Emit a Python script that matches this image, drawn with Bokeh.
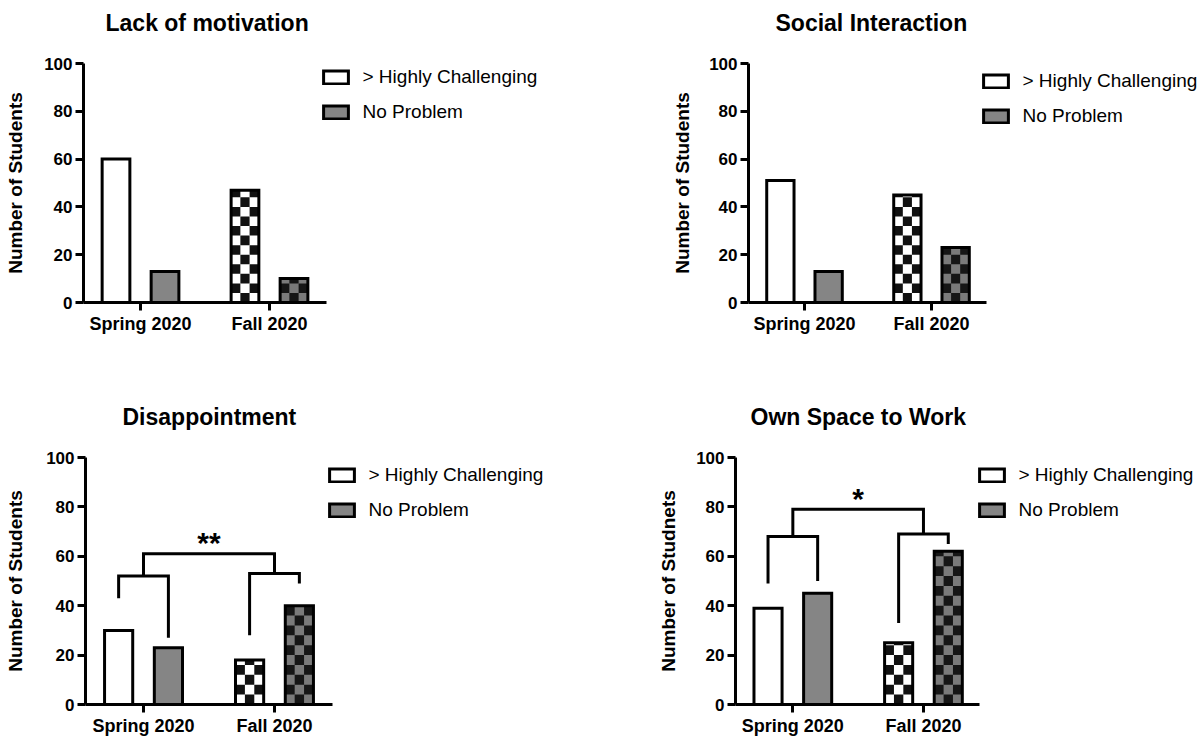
import math
from bokeh.plotting import figure
from bokeh.models import Range1d, FixedTicker, Legend, LegendItem, Title
from bokeh.layouts import column, row
from bokeh.core.properties import value
from bokeh.embed import file_html
from bokeh.resources import INLINE

# ---------------- data ----------------
categories = ["Spring 2020", "Fall 2020"]
series_names = ["> Highly Challenging", "No Problem"]
titles = ["Lack of motivation", "Social Interaction", "Disappointment", "Own Space to Work"]
y_labels = ["Number of Students", "Number of Students", "Number of Students", "Number of Studnets"]
y_ticks = [0, 20, 40, 60, 80, 100]

lack_hc = [60, 47]
lack_np = [13, 10]
social_hc = [51, 45]
social_np = [13, 23]
disap_hc = [30, 18]
disap_np = [23, 40]
space_hc = [39, 25]
space_np = [45, 62]

# significance brackets: per group [HC leg end, NP leg end, cross level]
disap_br_spring = [43, 27, 52]
disap_br_fall = [28, 49, 53]
disap_br_top = 61
disap_star = "**"
space_br_spring = [49, 50, 68]
space_br_fall = [33, 65, 69]
space_br_top = 79
space_star = "*"

# ---------------- style ----------------
FONT = "Liberation Sans"
OFF = 0.19
BAR_W = 0.215
CELL_H = 4.0
NCOLS = 3
GRAY = "#858585"
DARK = "#161616"


def checker_cells(xc, w, v, parity):
    left, right, bottom, top = [], [], [], []
    nrows = int(math.ceil(v / CELL_H))
    for i in range(nrows):
        for j in range(NCOLS):
            if (i + j) % 2 == parity:
                left.append(xc - w / 2 + j * w / NCOLS)
                right.append(xc - w / 2 + (j + 1) * w / NCOLS)
                bottom.append(i * CELL_H)
                top.append(min((i + 1) * CELL_H, v))
    return dict(left=left, right=right, bottom=bottom, top=top)


def make_panel(title, ylab, hc, npv, geom, bracket=None):
    W, H, bl, bt, bb, axis_w, x0, x_end, lab_standoff, t_off = geom
    fw = W - bl
    fh = H - bt - bb
    x1 = x0 + (x_end - x0) * fw / axis_w
    p = figure(width=W, height=H, x_range=Range1d(x0, x1), y_range=Range1d(0, 100),
               output_backend="svg", toolbar_location=None, title=None,
               min_border_left=bl, min_border_right=0,
               min_border_top=bt, min_border_bottom=bb)
    p.outline_line_color = None
    p.xgrid.visible = False
    p.ygrid.visible = False

    # spacer (closest to frame) then the visible title above it
    p.add_layout(Title(text=" ", text_font_size="10px", standoff=15), "above")
    p.add_layout(Title(text=title, align="left", offset=t_off, standoff=0, text_font=FONT,
                       text_font_size="23px", text_font_style="bold", text_color="black"), "above")

    for ax in (p.xaxis[0], p.yaxis[0]):
        ax.axis_line_width = 3
        ax.axis_line_color = "black"
        ax.major_tick_line_width = 3
        ax.major_tick_line_color = "black"
        ax.major_tick_out = 8
        ax.major_tick_in = 0
        ax.minor_tick_line_color = None
        ax.major_label_text_font = FONT
        ax.major_label_text_font_style = "bold"
        ax.major_label_text_color = "black"
        ax.major_label_standoff = 3
    p.yaxis.ticker = FixedTicker(ticks=y_ticks)
    p.yaxis.major_label_text_font_size = "17px"
    p.yaxis.axis_label = ylab
    p.yaxis.axis_label_text_font = FONT
    p.yaxis.axis_label_text_font_size = "19px"
    p.yaxis.axis_label_text_font_style = "bold"
    p.yaxis.axis_label_text_color = "black"
    p.yaxis.axis_label_standoff = lab_standoff
    p.xaxis.ticker = FixedTicker(ticks=[0, 1])
    p.xaxis.bounds = (x0, x_end)
    p.xaxis.major_label_overrides = {0: categories[0], 1: categories[1]}
    p.xaxis.major_label_text_font_size = "18px"

    x_hc = [i - OFF for i in range(len(categories))]
    x_np = [i + OFF for i in range(len(categories))]

    # Spring bars (solid)
    r_hc = p.vbar(x=[x_hc[0]], top=[hc[0]], width=BAR_W, fill_color="white",
                  line_color="black", line_width=3, line_join="miter")
    r_np = p.vbar(x=[x_np[0]], top=[npv[0]], width=BAR_W, fill_color=GRAY,
                  line_color="black", line_width=3, line_join="miter")

    # Fall bars (checkered)
    p.vbar(x=[x_hc[1]], top=[hc[1]], width=BAR_W, fill_color="white", line_color=None)
    p.quad(**checker_cells(x_hc[1], BAR_W, hc[1], 1), fill_color="#111111", line_color=None)
    p.vbar(x=[x_hc[1]], top=[hc[1]], width=BAR_W, fill_color=None,
           line_color="black", line_width=3, line_join="miter")

    p.vbar(x=[x_np[1]], top=[npv[1]], width=BAR_W, fill_color="#7a7a7a", line_color=None)
    p.quad(**checker_cells(x_np[1], BAR_W, npv[1], 1), fill_color=DARK, line_color=None)
    p.vbar(x=[x_np[1]], top=[npv[1]], width=BAR_W, fill_color=None,
           line_color="black", line_width=3, line_join="miter")

    if bracket is not None:
        br_s, br_f, br_top, star = bracket
        xs, ys = [], []
        for g, b in enumerate((br_s, br_f)):
            xs.append([x_hc[g], x_hc[g], x_np[g], x_np[g]])
            ys.append([b[0], b[2], b[2], b[1]])
        xs.append([0, 0, 1, 1])
        ys.append([br_s[2], br_top, br_top, br_f[2]])
        p.multi_line(xs=xs, ys=ys, line_color="black", line_width=3, line_join="miter")
        p.text(x=[0.5], y=[br_top + 4.5], text=[star], text_font=value(FONT),
               text_font_style="bold", text_font_size="30px", text_align="center",
               text_baseline="middle", text_color="black")

    leg_h = 55
    legend = Legend(items=[LegendItem(label=series_names[0], renderers=[r_hc]),
                           LegendItem(label=series_names[1], renderers=[r_np])],
                    location=(axis_w - 6.5, fh - 9 - leg_h), padding=0, margin=0, spacing=13,
                    glyph_width=31, glyph_height=16, label_height=16, label_standoff=12,
                    label_text_font=FONT, label_text_font_size="19px", label_text_color="black",
                    border_line_color=None, background_fill_alpha=0)
    p.add_layout(legend)
    return p


p1 = make_panel(titles[0], y_labels[0], lack_hc, lack_np,
                (655, 390, 83, 61, 86, 243, -0.442, 1.442, 15, 22))
p2 = make_panel(titles[1], y_labels[1], social_hc, social_np,
                (547, 390, 93, 63, 88, 238, -0.441, 1.433, 13, 27))
p3 = make_panel(titles[2], y_labels[2], disap_hc, disap_np,
                (655, 348, 85, 67, 34, 247, -0.443, 1.443, 17, 37),
                bracket=(disap_br_spring, disap_br_fall, disap_br_top, disap_star))
p4 = make_panel(titles[3], y_labels[3], space_hc, space_np,
                (547, 348, 75, 67, 34, 247, -0.439, 1.432, 14, 15),
                bracket=(space_br_spring, space_br_fall, space_br_top, space_star))

layout = column(row(p1, p2), row(p3, p4))
open("out.html", "w").write(file_html(layout, INLINE))
